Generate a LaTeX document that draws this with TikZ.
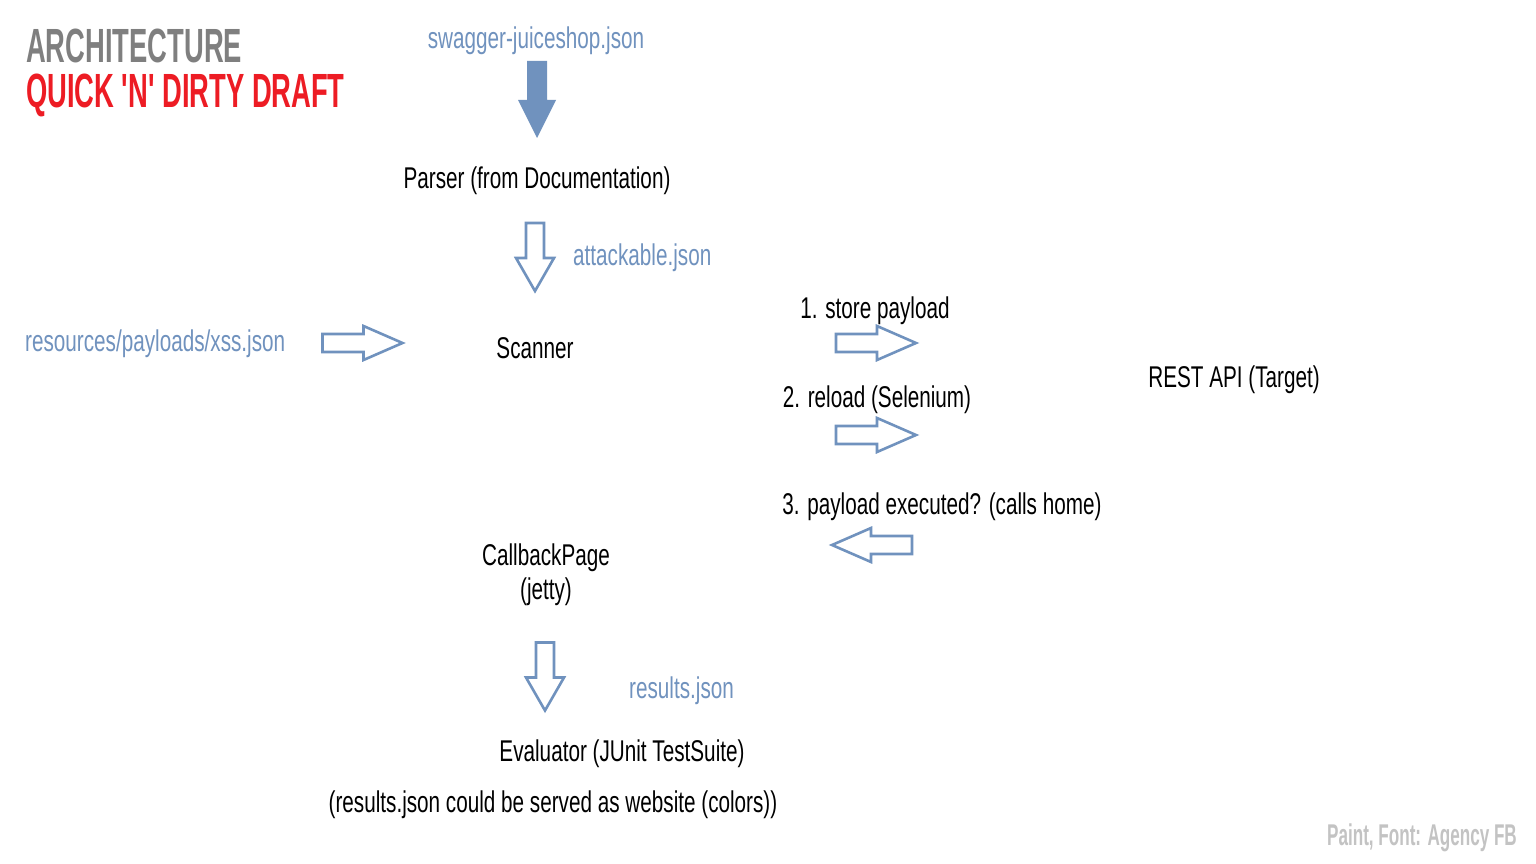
\documentclass[tikz,border=0pt]{standalone}
\usepackage{fontspec}
\setmainfont{Liberation Sans}[FakeStretch=0.69]
\newfontfamily\titlefont{Liberation Sans}[FakeStretch=0.57]
\definecolor{titlegray}{HTML}{7F7F7F}
\definecolor{titlered}{HTML}{ED1C24}
\definecolor{fileblue}{HTML}{7092BE}
\definecolor{notegray}{HTML}{C3C3C3}
\begin{document}
\begin{tikzpicture}[x=1pt,y=-1pt,
  lbl/.style={inner sep=0pt, font=\fontsize{30}{34}\selectfont, text=black},
  filelbl/.style={lbl, text=fileblue},
  titlelbl/.style={inner sep=0pt, anchor=west, text height=34pt, text depth=0pt,
    font=\titlefont\bfseries\fontsize{48}{52}\selectfont},
  pics/hollowarrow/.style={code={
    \draw[draw=fileblue, line width=2.6pt, line join=miter]
      (-40,-9) -- (1,-9) -- (1,-17) -- (40,0) -- (1,17) -- (1,9) -- (-40,9) -- cycle;}},
  pics/hollowdown/.style={code={
    \draw[draw=fileblue, line width=2.6pt, line join=miter]
      (-34,-9) -- (1,-9) -- (1,-19) -- (34,0) -- (1,19) -- (1,9) -- (-34,9) -- cycle;}}
]
\useasboundingbox[fill=white] (0,0) rectangle (1536,864);

% titles
\node[titlelbl, text=titlegray] (title1) at (26,46) {ARCHITECTURE};
\node[titlelbl, text=titlered] (title2) at (26,91) {QUICK \char39N\char39{} DIRTY DRAFT};

% file labels
\node[filelbl] (swagger) at (536,41) {swagger-juiceshop.json};
\node[filelbl, anchor=west] (attackable) at (573,258) {attackable.json};
\node[filelbl, anchor=west] (payloads) at (25,344) {resources/payloads/xss.json};
\node[filelbl, anchor=west] (results) at (629,691) {results.json};

% components
\node[lbl] (parser) at (537,181) {Parser (from Documentation)};
\node[lbl] (scanner) at (535,348) {Scanner};
\node[lbl] (store) at (875,311) {1. store payload};
\node[lbl] (reload) at (877,400) {2. reload (Selenium)};
\node[lbl] (executed) at (942,507) {3. payload executed? (calls home)};
\node[lbl] (rest) at (1234,380) {REST API (Target)};
\node[lbl, align=center] (callback) at (546,575) {CallbackPage\\(jetty)};
\node[lbl] (evaluator) at (622,754) {Evaluator (JUnit TestSuite)};
\node[lbl] (served) at (553,805) {(results.json could be served as website (colors))};
\node[inner sep=0pt, anchor=east, text=notegray,
      font=\titlefont\bfseries\fontsize{30}{34}\selectfont] (note) at (1517,838) {Paint, Font: Agency FB};

% filled arrow swagger -> parser
\fill[fileblue] (527,61) -- (547,61) -- (547,100) -- (556,100) -- (537,138)
  -- (518,100) -- (527,100) -- cycle;

% hollow block arrows
\pic[rotate=-90] (arrattack) at (535,257) {hollowdown};
\pic (arrpayload) at (362.5,343) {hollowarrow};
\pic (arrstore) at (876,343) {hollowarrow};
\pic (arrreload) at (876,435) {hollowarrow};
\pic[rotate=180] (arrcall) at (872,545) {hollowarrow};
\pic[rotate=-90] (arrresults) at (545,676.5) {hollowdown};
\end{tikzpicture}
\end{document}
